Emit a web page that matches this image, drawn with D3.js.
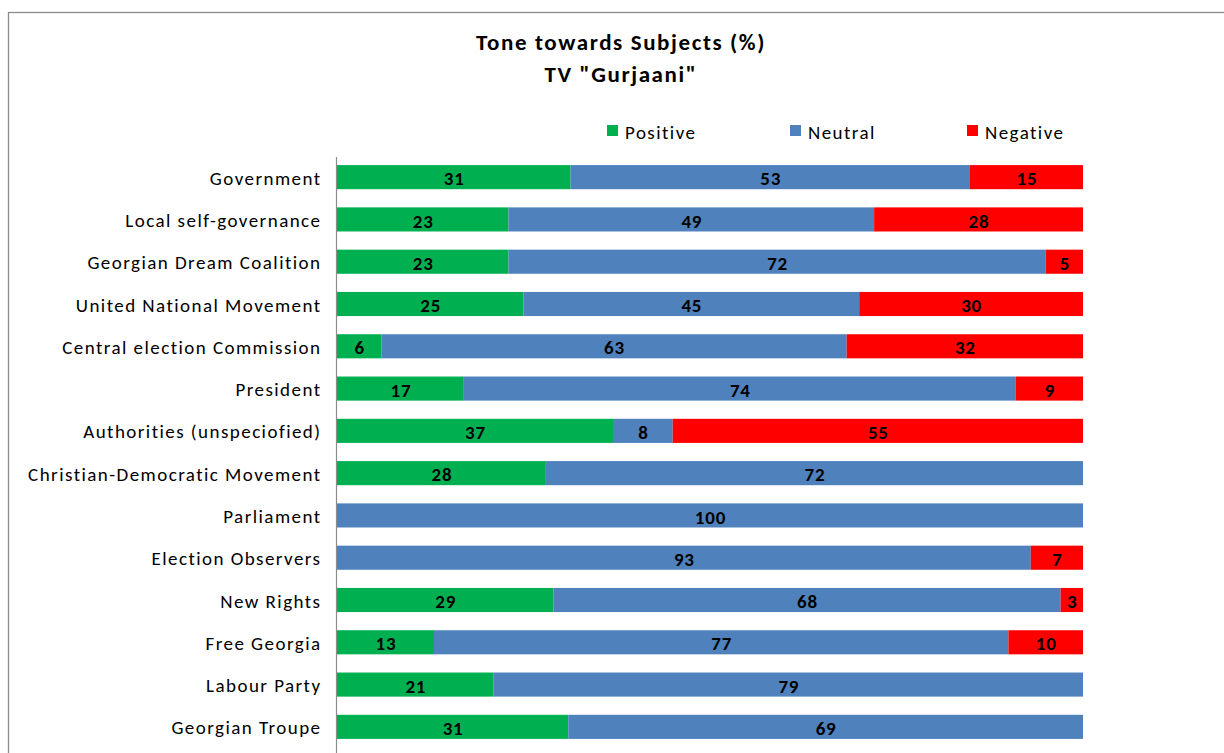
<!DOCTYPE html>
<html>
<head>
<meta charset="utf-8">
<script src="https://cdn.jsdelivr.net/npm/d3@7"></script>
<style>
  html, body { margin: 0; padding: 0; background: #fff; }
  svg { display: block; }
  text { font-family: Calibri, Carlito, Lato, "Open Sans", sans-serif; }
</style>
</head>
<body>
<svg id="chart" width="1224" height="753"></svg>
<script>
// Subjects covered, top to bottom
const subjects = [
  "Government",
  "Local self-governance",
  "Georgian Dream Coalition",
  "United National Movement",
  "Central election Commission",
  "President",
  "Authorities (unspeciofied)",
  "Christian-Democratic Movement",
  "Parliament",
  "Election Observers",
  "New Rights",
  "Free Georgia",
  "Labour Party",
  "Georgian Troupe"
];

// Tone shares (%) per subject
const positive = [31, 23, 23, 25, 6, 17, 37, 28, 0, 0, 29, 13, 21, 31];
const neutral  = [53, 49, 72, 45, 63, 74, 8, 72, 100, 93, 68, 77, 79, 69];
const negative = [15, 28, 5, 30, 32, 9, 55, 0, 0, 7, 3, 10, 0, 0];

const seriesNames = ["Positive", "Neutral", "Negative"];
const seriesColors = ["#00B050", "#4F81BD", "#FF0000"];

const titleLines = ["Tone towards Subjects (%)", "TV \"Gurjaani\""];

const rows = subjects.map((s, i) => ({
  subject: s,
  Positive: positive[i],
  Neutral: neutral[i],
  Negative: negative[i]
}));

const svg = d3.select("#chart");

// outer chart frame
svg.append("rect")
  .attr("x", 8.5).attr("y", 12.5)
  .attr("width", 1240).attr("height", 760)
  .attr("fill", "none").attr("stroke", "#8c8c8c").attr("stroke-width", 1.3);

// title
svg.append("g").selectAll("text")
  .data(titleLines).join("text")
  .attr("x", 621).attr("y", (d, i) => 50 + i * 32)
  .attr("text-anchor", "middle")
  .attr("font-size", 23).attr("font-weight", "bold").attr("fill", "#000")
  .attr("letter-spacing", 1.6)
  .text(d => d);

// layout
const plotLeft = 337, plotRight = 1083, plotTop = 156, plotBottom = 748;

const x = d3.scaleLinear().domain([0, 1]).range([plotLeft, plotRight]);
const y = d3.scaleBand().domain(subjects).range([plotTop, plotBottom]).paddingInner(0.43).paddingOuter(0.215);

const stack = d3.stack().keys(seriesNames).offset(d3.stackOffsetExpand);
const stacked = stack(rows);

const layers = svg.append("g").selectAll("g")
  .data(stacked).join("g")
  .attr("fill", (d, i) => seriesColors[i]);

layers.selectAll("rect")
  .data(d => d).join("rect")
  .attr("x", d => x(d[0]))
  .attr("y", d => y(d.data.subject))
  .attr("width", d => Math.max(0, x(d[1]) - x(d[0])))
  .attr("height", y.bandwidth());

// value labels
const labels = svg.append("g");
stacked.forEach(layer => {
  labels.selectAll(null)
    .data(layer.filter(d => d.data[layer.key] > 0))
    .join("text")
    .attr("x", d => (x(d[0]) + x(d[1])) / 2 + 0.5)
    .attr("y", d => y(d.data.subject) + y.bandwidth() / 2)
    .attr("dy", "0.43em")
    .attr("text-anchor", "middle")
    .attr("font-size", 19).attr("font-weight", "bold").attr("fill", "#000")
    .attr("letter-spacing", 0.8)
    .text(d => d.data[layer.key]);
});

// category axis
const yAxis = svg.append("g")
  .attr("transform", `translate(${plotLeft - 0.5},0)`)
  .call(d3.axisLeft(y).tickSize(0).tickPadding(15));
yAxis.select(".domain").attr("stroke", "#8c8c8c").attr("stroke-width", 1.2)
  .attr("d", `M0,${plotTop + 1}V760`);
yAxis.selectAll("text")
  .attr("font-size", 19).attr("fill", "#000")
  .attr("dy", "0.4em")
  .style("font-family", "Calibri, Carlito, Lato, 'Open Sans', sans-serif")
  .attr("letter-spacing", 1.45);

// legend
const legendX = [607, 790, 967];
const legend = svg.append("g").selectAll("g")
  .data(seriesNames).join("g")
  .attr("transform", (d, i) => `translate(${legendX[i]},125)`);
legend.append("rect")
  .attr("width", 11).attr("height", 11)
  .attr("fill", (d, i) => seriesColors[i]);
legend.append("text")
  .attr("x", 18).attr("y", 6).attr("dy", "0.4em")
  .attr("font-size", 19).attr("fill", "#000")
  .attr("letter-spacing", 1.45)
  .text(d => d);
</script>
</body>
</html>
